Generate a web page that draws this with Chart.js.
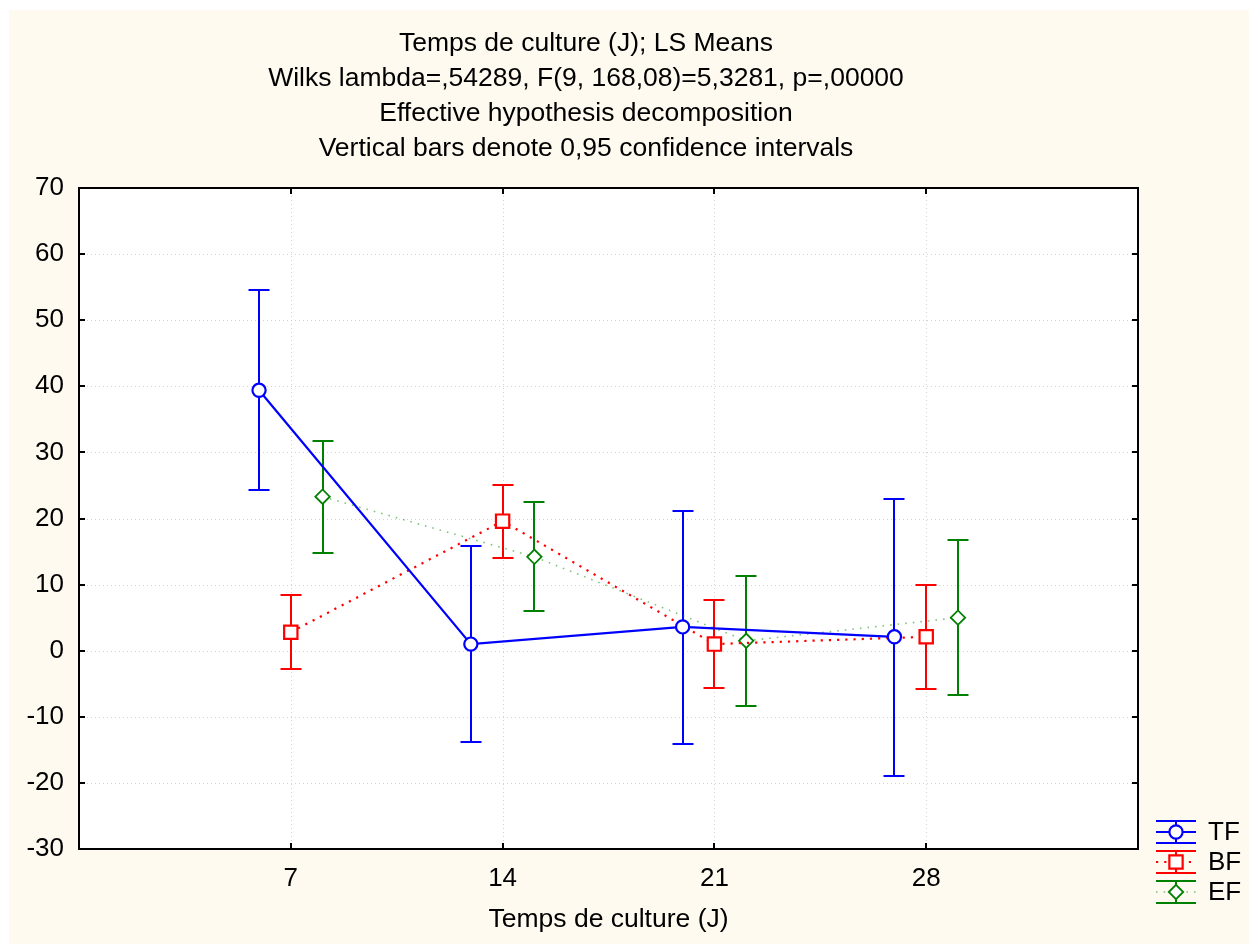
<!DOCTYPE html>
<html>
<head>
<meta charset="utf-8">
<title>Temps de culture (J); LS Means</title>
<script src="https://cdn.jsdelivr.net/npm/chart.js@4.4.1/dist/chart.umd.min.js"></script>
<style>
  html, body { margin: 0; padding: 0; background: #ffffff; }
  #wrap { position: relative; width: 1249px; height: 946px; }
  canvas { display: block; }
</style>
</head>
<body>
<div id="wrap"><canvas id="chart" width="1249" height="946"></canvas></div>
<script>
// Culture days (x categories) and y-axis ticks
const days = [7, 14, 21, 28];
const yTicks = [-30, -20, -10, 0, 10, 20, 30, 40, 50, 60, 70];

// LS means with 0.95 confidence limits per series
const tfMean = [39.4, 1.0, 3.6, 2.1];
const tfLow  = [24.3, -13.8, -14.1, -18.9];
const tfHigh = [54.6, 15.8, 21.2, 23.0];

const bfMean = [2.8, 19.6, 1.0, 2.1];
const bfLow  = [-2.8, 14.0, -5.7, -5.8];
const bfHigh = [8.4, 25.1, 7.6, 9.9];

const efMean = [23.3, 14.2, 1.5, 5.0];
const efLow  = [14.8, 6.0, -8.4, -6.7];
const efHigh = [31.7, 22.5, 11.3, 16.7];

const seriesNames = ['TF', 'BF', 'EF'];

const titleLines = [
  'Temps de culture (J); LS Means',
  'Wilks lambda=,54289, F(9, 168,08)=5,3281, p=,00000',
  'Effective hypothesis decomposition',
  'Vertical bars denote 0,95 confidence intervals'
];
const xAxisTitle = 'Temps de culture (J)';

// ---- styling ----
const FONT = '"Liberation Sans", Arial, Helvetica, sans-serif';
const PAPER = '#FFFAF0';
const DODGE = 1.05;          // horizontal shift between series within a day
const CAP = 10.5;            // half-width of error bar caps

const styles = [
  { color: '#0000FF', lineColor: '#0000FF', width: 2.2, dash: [], pointStyle: 'circle', radius: 6.6, pbw: 2.2 },
  { color: '#FF0000', lineColor: '#FF0000', width: 2.2, dash: [2.2, 6], pointStyle: 'rect', radius: 9.4, pbw: 2.2 },
  { color: '#008000', lineColor: 'rgba(0,140,0,0.5)', width: 1.6, dash: [1.6, 6], pointStyle: 'rectRot', radius: 7.2, pbw: 1.8 }
];

const means = [tfMean, bfMean, efMean];
const lows = [tfLow, bfLow, efLow];
const highs = [tfHigh, bfHigh, efHigh];
const offsets = [-DODGE, 0, DODGE];

const datasets = seriesNames.map((name, s) => ({
  label: name,
  data: days.map((d, i) => ({ x: d + offsets[s], y: means[s][i] })),
  errLow: lows[s],
  errHigh: highs[s],
  borderColor: styles[s].lineColor,
  borderWidth: styles[s].width,
  borderDash: styles[s].dash,
  pointStyle: styles[s].pointStyle,
  pointRadius: styles[s].radius,
  pointBorderColor: styles[s].color,
  pointBackgroundColor: '#ffffff',
  pointBorderWidth: styles[s].pbw,
  tension: 0,
  fill: false,
  clip: false
}));

function strokeLine(ctx, x1, y1, x2, y2) {
  ctx.beginPath();
  ctx.moveTo(x1, y1);
  ctx.lineTo(x2, y2);
  ctx.stroke();
}

function drawMarker(ctx, style, x, y) {
  ctx.save();
  ctx.setLineDash([]);
  ctx.lineWidth = style.pbw;
  ctx.strokeStyle = style.color;
  ctx.fillStyle = '#ffffff';
  Chart.helpers.drawPoint(ctx, { pointStyle: style.pointStyle, radius: style.radius, borderWidth: style.pbw, rotation: 0 }, x, y);
  ctx.restore();
}

// Paper, plot background and dotted grid
const backdrop = {
  id: 'backdrop',
  beforeDraw(chart) {
    const { ctx, chartArea: a, width, height } = chart;
    const xs = chart.scales.x, ys = chart.scales.y;
    ctx.save();
    ctx.fillStyle = '#ffffff';
    ctx.fillRect(0, 0, width, height);
    ctx.fillStyle = PAPER;
    ctx.fillRect(9, 10, width - 9, height - 12);
    ctx.fillStyle = '#ffffff';
    ctx.fillRect(a.left, a.top, a.right - a.left, a.bottom - a.top);

    ctx.strokeStyle = '#d2d2d2';
    ctx.lineWidth = 1;
    ctx.setLineDash([1, 3]);
    days.forEach(d => {
      const px = Math.round(xs.getPixelForValue(d)) + 0.5;
      strokeLine(ctx, px, a.top, px, a.bottom);
    });
    yTicks.forEach(v => {
      if (v === ys.min || v === ys.max) return;
      const py = Math.round(ys.getPixelForValue(v)) + 0.5;
      strokeLine(ctx, a.left, py, a.right, py);
    });
    ctx.restore();
  }
};

// Confidence interval bars, drawn beneath the markers
const errorBars = {
  id: 'errorBars',
  beforeDatasetsDraw(chart) {
    const { ctx } = chart;
    const xs = chart.scales.x, ys = chart.scales.y;
    ctx.save();
    ctx.setLineDash([]);
    chart.data.datasets.forEach((ds, s) => {
      ctx.strokeStyle = styles[s].color;
      ctx.lineWidth = 2;
      ds.data.forEach((p, i) => {
        const px = Math.round(xs.getPixelForValue(p.x));
        const yl = Math.round(ys.getPixelForValue(ds.errLow[i]));
        const yh = Math.round(ys.getPixelForValue(ds.errHigh[i]));
        strokeLine(ctx, px, yl, px, yh);
        strokeLine(ctx, px - CAP, yl, px + CAP, yl);
        strokeLine(ctx, px - CAP, yh, px + CAP, yh);
      });
    });
    ctx.restore();
  }
};

// Frame with inward ticks, titles and legend
const decorations = {
  id: 'decorations',
  afterDraw(chart) {
    const { ctx, chartArea: a } = chart;
    const xs = chart.scales.x, ys = chart.scales.y;
    ctx.save();
    ctx.setLineDash([]);
    ctx.strokeStyle = '#000000';
    ctx.lineWidth = 2;
    ctx.strokeRect(a.left, a.top, a.right - a.left, a.bottom - a.top);

    const TL = 6;
    days.forEach(d => {
      const px = Math.round(xs.getPixelForValue(d));
      strokeLine(ctx, px, a.bottom, px, a.bottom - TL);
      strokeLine(ctx, px, a.top, px, a.top + TL);
    });
    yTicks.forEach(v => {
      const py = Math.round(ys.getPixelForValue(v));
      strokeLine(ctx, a.left, py, a.left + TL, py);
      strokeLine(ctx, a.right, py, a.right - TL, py);
    });

    // titles
    ctx.fillStyle = '#000000';
    ctx.font = '26.5px ' + FONT;
    ctx.textAlign = 'center';
    ctx.textBaseline = 'middle';
    titleLines.forEach((t, i) => ctx.fillText(t, 586, 44 + i * 35));
    ctx.font = '26.5px ' + FONT;
    ctx.fillText(xAxisTitle, (a.left + a.right) / 2, 920);

    // legend
    const lx1 = 1156, lx2 = 1196, lmid = 1176;
    seriesNames.forEach((name, s) => {
      const st = styles[s];
      const y = 832 + s * 30;
      ctx.strokeStyle = st.color;
      ctx.lineWidth = 2;
      ctx.setLineDash([]);
      strokeLine(ctx, lx1, y - 11, lx2, y - 11);
      strokeLine(ctx, lx1, y + 11, lx2, y + 11);
      strokeLine(ctx, lmid, y - 11, lmid, y + 11);
      ctx.strokeStyle = st.lineColor;
      ctx.lineWidth = st.width;
      ctx.setLineDash(st.dash);
      strokeLine(ctx, lx1, y, lx2, y);
      drawMarker(ctx, st, lmid, y);
      ctx.fillStyle = '#000000';
      ctx.font = '26px ' + FONT;
      ctx.textAlign = 'left';
      ctx.textBaseline = 'middle';
      ctx.fillText(name, 1208, y + 1);
    });
    ctx.restore();
  }
};

new Chart(document.getElementById('chart'), {
  type: 'line',
  data: { datasets },
  plugins: [backdrop, errorBars, decorations],
  options: {
    responsive: false,
    animation: false,
    devicePixelRatio: 1,
    layout: { padding: { top: 188, right: 111, left: 0, bottom: 0 } },
    plugins: {
      legend: { display: false },
      title: { display: false },
      tooltip: { enabled: false }
    },
    scales: {
      x: {
        type: 'linear',
        min: 0,
        max: 35,
        afterBuildTicks(scale) { scale.ticks = days.map(v => ({ value: v })); },
        afterFit(scale) { scale.height = 97; },
        grid: { display: false, drawTicks: false, tickLength: 0 },
        border: { display: false },
        ticks: { color: '#000000', font: { family: FONT, size: 26 }, padding: 14, maxRotation: 0, autoSkip: false }
      },
      y: {
        type: 'linear',
        min: -30,
        max: 70,
        afterBuildTicks(scale) { scale.ticks = yTicks.map(v => ({ value: v })); },
        afterFit(scale) { scale.width = 79; },
        grid: { display: false, drawTicks: false, tickLength: 0 },
        border: { display: false },
        ticks: { color: '#000000', font: { family: FONT, size: 26 }, padding: 15 }
      }
    }
  }
});
</script>
</body>
</html>
